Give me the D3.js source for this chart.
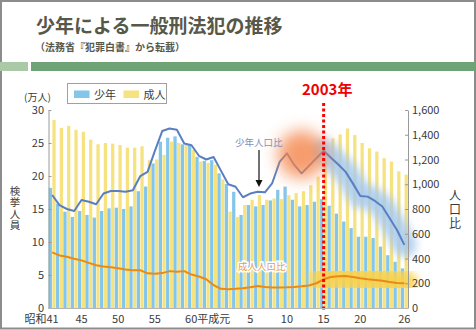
<!DOCTYPE html>
<html lang="ja">
<head>
<meta charset="utf-8">
<script src="https://cdn.jsdelivr.net/npm/d3@7"></script>
<style>
  body { margin: 0; background: #fff; }
  svg { display: block; font-family: "Noto Sans CJK JP", "Noto Sans", sans-serif; }
</style>
</head>
<body>
<svg width="476" height="330"></svg>
<script>
// 昭和41年(1966) 〜 平成26年(2014)
const years = [
  1966, 1967, 1968, 1969, 1970, 1971, 1972, 1973, 1974, 1975,
  1976, 1977, 1978, 1979, 1980, 1981, 1982, 1983, 1984, 1985,
  1986, 1987, 1988, 1989, 1990, 1991, 1992, 1993, 1994, 1995,
  1996, 1997, 1998, 1999, 2000, 2001, 2002, 2003, 2004, 2005,
  2006, 2007, 2008, 2009, 2010, 2011, 2012, 2013, 2014,
];

// 検挙人員 (万人)
const juvenile = [
  18.2, 15.8, 14.6, 13.8, 14.7, 14.1, 13.7, 14.7, 15.1, 15.2,
  15.0, 15.4, 17.7, 18.4, 21.9, 25.2, 25.8, 26.0, 24.8, 24.7,
  22.9, 22.3, 22.4, 20.4, 18.8, 17.6, 14.1, 15.6, 15.4, 15.6,
  16.3, 17.9, 18.4, 16.4, 15.4, 15.6, 16.1, 16.5, 15.5, 14.3,
  13.1, 12.1, 10.8, 10.8, 10.6, 9.3, 8.0, 7.0, 6.0,
];
const adult = [
  28.5, 27.3, 27.6, 27.0, 26.7, 25.5, 24.8, 25.0, 24.9, 24.7,
  24.3, 24.3, 24.5, 22.4, 22.5, 23.2, 25.2, 25.0, 24.7, 24.0,
  22.2, 22.0, 21.7, 19.5, 14.6, 13.8, 15.6, 16.4, 17.1, 16.4,
  16.6, 16.5, 17.1, 17.4, 17.7, 18.6, 19.9, 22.5, 25.7, 26.3,
  27.2, 26.2, 25.0, 24.2, 23.7, 22.7, 22.2, 20.7, 20.2,
];

// 人口比
const juvenileRate = [
  913, 832, 800, 784, 873, 859, 838, 925, 945, 945,
  940, 952, 1065, 1100, 1270, 1430, 1450, 1440, 1330, 1315,
  1230, 1200, 1220, 1110, 1000, 980, 895, 925, 940, 935,
  1010, 1180, 1250, 1156, 1088, 1150, 1210, 1270, 1215, 1160,
  1100, 1005, 905, 900, 865, 820, 725, 630, 510,
];
const adultRate = [
  450, 425, 414, 398, 385, 365, 345, 335, 330, 322,
  312, 306, 306, 280, 276, 282, 298, 292, 298, 270,
  255, 232, 185, 155, 152, 155, 160, 168, 178, 170,
  166, 166, 167, 170, 175, 182, 200, 232, 250, 256,
  258, 250, 240, 232, 226, 220, 210, 202, 200,
];

const leftTicks = [0, 5, 10, 15, 20, 25, 30];
const rightTicks = [0, 200, 400, 600, 800, 1000, 1200, 1400, 1600];
const xTickYears = [1966, 1970, 1975, 1980, 1985, 1993, 1998, 2003, 2008, 2014];
const xTickLabels = ["昭和41", "45", "50", "55", "60平成元", "5", "10", "15", "20", "26"];
const highlightYear = 2003;

const colors = {
  juvenile: "#84c6ea",
  adult: "#f6e27e",
  juvenileLine: "#5a7fc1",
  adultLine: "#ea8a12",
  text: "#3a3a3a",
  title: "#58584a",
};

const svg = d3.select("svg");
const dims = {
  width: 476,
  height: 330,
  left: 48.5,
  right: 408,
  top: 110,
  bottom: 308,
};

const x0 = d3.scaleBand().domain(years).range([dims.left, dims.right]);
const x1 = d3
  .scaleBand()
  .domain(["juvenile", "adult"])
  .range([0, x0.bandwidth()])
  .paddingInner(0.12)
  .paddingOuter(0.05);
const xc = (yr) => x0(yr) + x0.bandwidth() / 2;
const yLeft = d3.scaleLinear().domain([0, 30]).range([dims.bottom, dims.top]);
const yRight = d3.scaleLinear().domain([0, 1600]).range([dims.bottom, dims.top]);

const rows = years.map((yr, i) => ({
  year: yr,
  juvenile: juvenile[i],
  adult: adult[i],
  jRate: juvenileRate[i],
  aRate: adultRate[i],
}));

// blur filters for the highlighted regions
const defs = svg.append("defs");
[["blur4", 4.5], ["blur8", 8]].forEach(([id, s]) => {
  defs
    .append("filter")
    .attr("id", id)
    .attr("x", "-60%")
    .attr("y", "-60%")
    .attr("width", "220%")
    .attr("height", "220%")
    .append("feGaussianBlur")
    .attr("stdDeviation", s);
});

// frame + header
svg
  .append("rect")
  .attr("x", 1)
  .attr("y", 1)
  .attr("width", dims.width - 2)
  .attr("height", dims.height - 2.5)
  .attr("fill", "#fff")
  .attr("stroke", "#8c8c8c")
  .attr("stroke-width", 2);

svg
  .append("text")
  .attr("x", 36)
  .attr("y", 33)
  .attr("fill", colors.title)
  .attr("font-size", 19)
  .attr("font-weight", 700)
  .text("少年による一般刑法犯の推移");

svg
  .append("text")
  .attr("x", 35)
  .attr("y", 50.5)
  .attr("fill", colors.title)
  .attr("font-size", 10)
  .attr("font-weight", 700)
  .text("（法務省『犯罪白書』から転載）");

svg.append("rect").attr("x", 0).attr("y", 62).attr("width", 28).attr("height", 9).attr("fill", "#aacaa7");
svg.append("rect").attr("x", 31).attr("y", 62).attr("width", 445).attr("height", 9).attr("fill", "#6fa275");

// bars
const groups = svg
  .append("g")
  .selectAll("g")
  .data(rows)
  .join("g")
  .attr("transform", (d) => `translate(${x0(d.year)},0)`);

groups
  .selectAll("rect")
  .data((d) => [
    { key: "juvenile", value: d.juvenile },
    { key: "adult", value: d.adult },
  ])
  .join("rect")
  .attr("x", (d) => x1(d.key))
  .attr("width", x1.bandwidth())
  .attr("y", (d) => yLeft(d.value))
  .attr("height", (d) => yLeft(0) - yLeft(d.value))
  .attr("fill", (d) => colors[d.key]);

// glows after 2003
const recent = rows.filter((d) => d.year >= highlightYear);
const jLine = d3.line().x((d) => xc(d.year)).y((d) => yRight(d.jRate));
const aLine = d3.line().x((d) => xc(d.year)).y((d) => yRight(d.aRate));

svg
  .append("path")
  .attr("d", jLine(recent))
  .attr("fill", "none")
  .attr("stroke", "#a6c9ee")
  .attr("stroke-width", 24)
  .attr("stroke-linecap", "round")
  .attr("opacity", 0.85)
  .attr("filter", "url(#blur4)");

svg
  .append("path")
  .attr("d", aLine(recent))
  .attr("fill", "none")
  .attr("stroke", "#f9d24e")
  .attr("stroke-width", 26)
  .attr("stroke-linecap", "round")
  .attr("opacity", 0.9)
  .attr("filter", "url(#blur4)");

// population ratio lines
svg
  .append("path")
  .attr("d", jLine(rows))
  .attr("fill", "none")
  .attr("stroke", colors.juvenileLine)
  .attr("stroke-width", 2)
  .attr("stroke-linejoin", "round");

svg
  .append("path")
  .attr("d", aLine(rows))
  .attr("fill", "none")
  .attr("stroke", colors.adultLine)
  .attr("stroke-width", 2)
  .attr("stroke-linejoin", "round");

// orange glow around the late 90s peak
svg
  .append("circle")
  .attr("cx", xc(2000))
  .attr("cy", yRight(1240))
  .attr("r", 24)
  .attr("fill", "#f4844a")
  .attr("opacity", 0.8)
  .attr("filter", "url(#blur8)");

// 2003 marker
svg
  .append("line")
  .attr("x1", xc(highlightYear))
  .attr("x2", xc(highlightYear))
  .attr("y1", 103)
  .attr("y2", 311)
  .attr("stroke", "#ff0000")
  .attr("stroke-width", 3)
  .attr("stroke-dasharray", "3,2.5");

svg
  .append("text")
  .attr("x", 302)
  .attr("y", 95)
  .attr("fill", "#f00000")
  .attr("font-size", 15)
  .attr("font-weight", 700)
  .text("2003年");

// axes
const leftAxis = svg
  .append("g")
  .attr("transform", `translate(${dims.left},0)`)
  .call(d3.axisLeft(yLeft).tickValues(leftTicks).tickSizeInner(-3).tickSizeOuter(0).tickPadding(4.5));

const rightAxis = svg
  .append("g")
  .attr("transform", `translate(${dims.right},0)`)
  .call(
    d3
      .axisRight(yRight)
      .tickValues(rightTicks)
      .tickFormat(d3.format(","))
      .tickSizeInner(-3)
      .tickSizeOuter(0)
      .tickPadding(4)
  );

[leftAxis, rightAxis].forEach((ax) => {
  ax.select(".domain").attr("stroke", "#9a9a9a");
  ax.selectAll(".tick line").attr("stroke", "#9a9a9a");
  ax.selectAll("text")
    .attr("fill", colors.text)
    .attr("font-size", 11)
    .attr("font-family", "'Noto Sans CJK JP', sans-serif");
});

svg
  .append("line")
  .attr("x1", dims.left)
  .attr("x2", dims.right)
  .attr("y1", dims.bottom + 0.5)
  .attr("y2", dims.bottom + 0.5)
  .attr("stroke", "#b5b5b5");

// x labels: era names are glued to the number like in the original
svg
  .append("g")
  .attr("fill", colors.text)
  .attr("font-size", 11)
  .selectAll("text")
  .data(xTickYears)
  .join("text")
  .attr("x", (d, i) => (i == 0 ? xc(d) + 6.5 : i == 4 ? xc(d) - 6.5 : xc(d)))
  .attr("y", 322.5)
  .attr("text-anchor", (d, i) => (i == 0 ? "end" : i == 4 ? "start" : "middle"))
  .text((d, i) => xTickLabels[i]);

// axis titles
svg
  .append("text")
  .attr("x", 37.5)
  .attr("y", 101)
  .attr("text-anchor", "middle")
  .attr("fill", colors.text)
  .attr("font-size", 10)
  .text("(万人)");

svg
  .append("text")
  .attr("x", 15)
  .attr("y", 208.5)
  .attr("writing-mode", "vertical-rl")
  .attr("text-anchor", "middle")
  .attr("letter-spacing", 1.1)
  .attr("fill", colors.text)
  .attr("font-size", 10.5)
  .text("検挙人員");

svg
  .append("text")
  .attr("x", 455)
  .attr("y", 210)
  .attr("writing-mode", "vertical-rl")
  .attr("text-anchor", "middle")
  .attr("letter-spacing", 2)
  .attr("fill", colors.text)
  .attr("font-size", 12)
  .text("人口比");

// legend
const legend = svg.append("g");
legend
  .append("rect")
  .attr("x", 67.5)
  .attr("y", 83.5)
  .attr("width", 99)
  .attr("height", 20)
  .attr("fill", "#fff")
  .attr("stroke", "#a0a0a0");
[
  ["少年", colors.juvenile, 74],
  ["成人", colors.adult, 123.5],
].forEach(([name, c, lx]) => {
  legend.append("rect").attr("x", lx).attr("y", 90.5).attr("width", 15.5).attr("height", 7.5).attr("fill", c);
  legend
    .append("text")
    .attr("x", lx + 20)
    .attr("y", 98.5)
    .attr("fill", colors.text)
    .attr("font-size", 11)
    .text(name);
});

// annotations
svg
  .append("text")
  .attr("x", 235)
  .attr("y", 146)
  .attr("fill", "#7d92bd")
  .attr("font-size", 9.5)
  .text("少年人口比");
svg
  .append("line")
  .attr("x1", 259)
  .attr("x2", 259)
  .attr("y1", 150)
  .attr("y2", 182)
  .attr("stroke", "#111")
  .attr("stroke-width", 1.2);
svg
  .append("path")
  .attr("d", "M255.5,180L262.5,180L259,187Z")
  .attr("fill", "#111");

svg
  .append("text")
  .attr("x", 238)
  .attr("y", 270)
  .attr("fill", "#e9a03e")
  .attr("stroke", "#fff")
  .attr("stroke-width", 3)
  .attr("paint-order", "stroke")
  .attr("font-size", 9.5)
  .text("成人人口比");
</script>
</body>
</html>
